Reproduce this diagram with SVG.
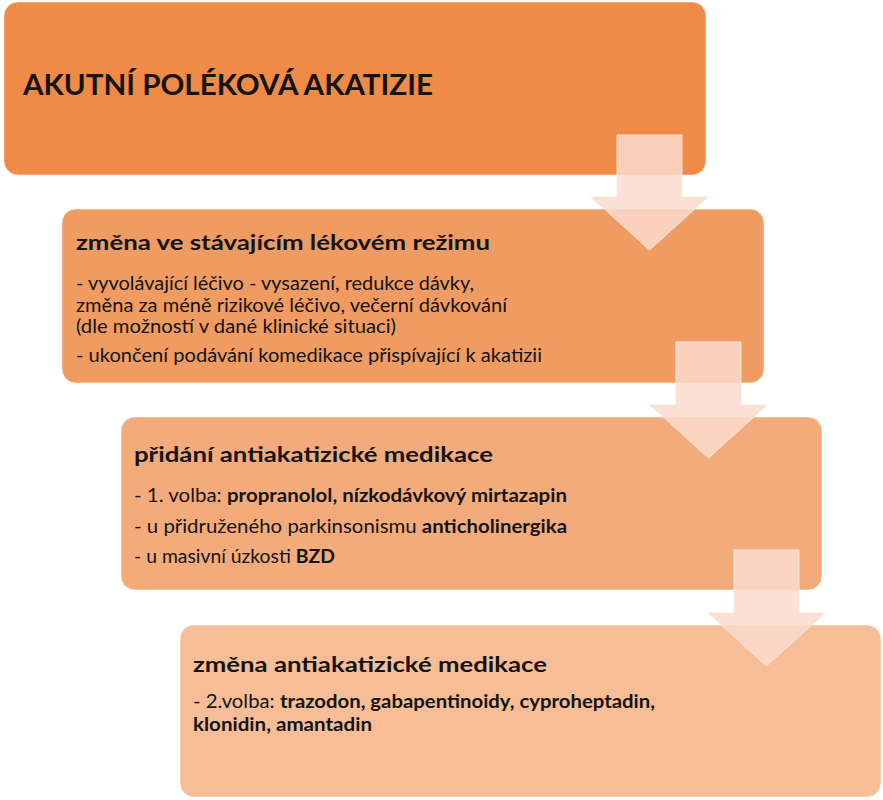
<svg xmlns="http://www.w3.org/2000/svg" width="883" height="800" viewBox="0 0 883 800">
<style>
.box{stroke:#ffffff;stroke-opacity:0.5;stroke-width:1}
.arrow{fill:#FADBCE;fill-opacity:0.85;stroke:#FBE6DD;stroke-width:1}
text{font-family:Lato,"Liberation Sans",sans-serif;fill:#141414}
.title{font-size:28px;font-weight:700}
.head{font-size:21px;font-weight:700}
.body{font-size:18.5px;font-weight:400}
.b{font-weight:700}
</style>
<rect width="883" height="800" fill="#ffffff"/>
<g id="node1">
<rect class="box" x="4" y="2" width="702" height="173" rx="14" fill="#EF8A47"/>
<text class="title" x="23" y="95" textLength="410" lengthAdjust="spacingAndGlyphs">AKUTNÍ POLÉKOVÁ AKATIZIE</text>
</g>
<g id="node2">
<rect class="box" x="62" y="209" width="702" height="174" rx="14" fill="#F09B61"/>
<text class="head" x="76" y="250" textLength="414" lengthAdjust="spacingAndGlyphs">změna ve stávajícím lékovém režimu</text>
<text class="body" x="76" y="290" textLength="398" lengthAdjust="spacingAndGlyphs">- vyvolávající léčivo - vysazení, redukce dávky,</text>
<text class="body" x="76" y="312" textLength="431" lengthAdjust="spacingAndGlyphs">změna za méně rizikové léčivo, večerní dávkování</text>
<text class="body" x="76" y="333" textLength="320" lengthAdjust="spacingAndGlyphs">(dle možností v dané klinické situaci)</text>
<text class="body" x="76" y="362" textLength="466" lengthAdjust="spacingAndGlyphs">- ukončení podávání komedikace přispívající k akatizii</text>
</g>
<g id="node3">
<rect class="box" x="121" y="417" width="701" height="173" rx="14" fill="#F3AB7B"/>
<text class="head" x="134" y="462" textLength="359" lengthAdjust="spacingAndGlyphs">přidání antiakatizické medikace</text>
<text class="body" x="134" y="502" textLength="433" lengthAdjust="spacingAndGlyphs">- 1. volba: <tspan class="b">propranolol, nízkodávkový mirtazapin</tspan></text>
<text class="body" x="134" y="533" textLength="433" lengthAdjust="spacingAndGlyphs">- u přidruženého parkinsonismu <tspan class="b">anticholinergika</tspan></text>
<text class="body" x="134" y="563" textLength="201" lengthAdjust="spacingAndGlyphs">- u masivní úzkosti <tspan class="b">BZD</tspan></text>
</g>
<g id="node4">
<rect class="box" x="180" y="625" width="701" height="172" rx="14" fill="#F6BD96"/>
<text class="head" x="193" y="672" textLength="354" lengthAdjust="spacingAndGlyphs">změna antiakatizické medikace</text>
<text class="body" x="193" y="708" textLength="462" lengthAdjust="spacingAndGlyphs">- 2.volba: <tspan class="b">trazodon, gabapentinoidy, cyproheptadin,</tspan></text>
<text class="body b" x="193" y="731" textLength="179" lengthAdjust="spacingAndGlyphs">klonidin, amantadin</text>
</g>
<g id="connectors">
<polygon class="arrow" points="617,135 682,135 682,197 708,197 649.5,250 591,197 617,197"/>
<polygon class="arrow" points="676,342 741,342 741,405 767,405 708.5,458 650,405 676,405"/>
<polygon class="arrow" points="734,550 799,550 799,613 825,613 766.5,666 708,613 734,613"/>
</g>
</svg>
